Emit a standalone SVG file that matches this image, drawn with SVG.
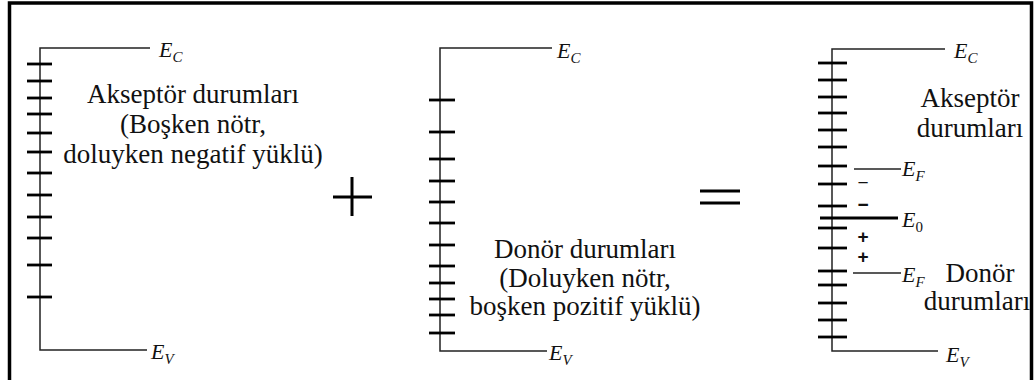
<svg xmlns="http://www.w3.org/2000/svg" width="1036" height="380" viewBox="0 0 1036 380">
<style>
.frame{fill:none;stroke:#000;stroke-width:3.5}
.axis{fill:none;stroke:#222;stroke-width:1.5}
.tick{stroke:#000;stroke-width:2.8}
.lvl{stroke:#222;stroke-width:1.3}
.op{stroke:#000;stroke-width:3}
.lbl{font-family:"Liberation Serif","Times New Roman",serif;font-size:27px;fill:#111;text-anchor:middle}
.E{font-family:"Liberation Serif","Times New Roman",serif;font-style:italic;font-size:22px;fill:#111}
.sub{font-size:15px}
.sgn{font-family:"Liberation Sans",Arial,sans-serif;font-size:19px;fill:#111;text-anchor:middle}
</style>
<rect class="frame" x="9.5" y="3" width="1022" height="400"/>

<g id="acceptor">
  <path class="axis" d="M150,48 H40 V350 H147"/>
  <g class="tick">
    <line x1="27" y1="64" x2="52" y2="64"/>
    <line x1="27" y1="81" x2="52" y2="81"/>
    <line x1="27" y1="98" x2="52" y2="98"/>
    <line x1="27" y1="114" x2="52" y2="114"/>
    <line x1="27" y1="133" x2="52" y2="133"/>
    <line x1="27" y1="152" x2="52" y2="152"/>
    <line x1="27" y1="173" x2="52" y2="173"/>
    <line x1="27" y1="195" x2="52" y2="195"/>
    <line x1="27" y1="217" x2="52" y2="217"/>
    <line x1="27" y1="238" x2="52" y2="238"/>
    <line x1="27" y1="265" x2="52" y2="265"/>
    <line x1="27" y1="297" x2="52" y2="297"/>
  </g>
  <text class="E" x="159" y="57">E<tspan class="sub" dy="5">C</tspan></text>
  <text class="E" x="151" y="359">E<tspan class="sub" dy="5">V</tspan></text>
  <text class="lbl" x="193" y="103">Akseptör durumları</text>
  <text class="lbl" x="193" y="133">(Boşken nötr,</text>
  <text class="lbl" x="193" y="163">doluyken negatif yüklü)</text>
</g>

<g id="plus">
  <line class="op" x1="333" y1="197" x2="372" y2="197"/>
  <line class="op" x1="352" y1="177" x2="352" y2="216"/>
</g>

<g id="donor">
  <path class="axis" d="M552,48 H440 V351 H547"/>
  <g class="tick">
    <line x1="429" y1="100" x2="455" y2="100"/>
    <line x1="429" y1="132" x2="455" y2="132"/>
    <line x1="429" y1="159" x2="455" y2="159"/>
    <line x1="429" y1="181" x2="455" y2="181"/>
    <line x1="429" y1="202" x2="455" y2="202"/>
    <line x1="429" y1="223" x2="455" y2="223"/>
    <line x1="429" y1="245" x2="455" y2="245"/>
    <line x1="429" y1="266" x2="455" y2="266"/>
    <line x1="429" y1="283" x2="455" y2="283"/>
    <line x1="429" y1="299" x2="455" y2="299"/>
    <line x1="429" y1="315" x2="455" y2="315"/>
    <line x1="429" y1="333" x2="455" y2="333"/>
  </g>
  <text class="E" x="557" y="58">E<tspan class="sub" dy="5">C</tspan></text>
  <text class="E" x="549" y="360">E<tspan class="sub" dy="5">V</tspan></text>
  <text class="lbl" x="585" y="258">Donör durumları</text>
  <text class="lbl" x="585" y="287">(Doluyken nötr,</text>
  <text class="lbl" x="585" y="315">boşken pozitif yüklü)</text>
</g>

<g id="equals">
  <line class="op" x1="700" y1="191" x2="740" y2="191" stroke-width="4"/>
  <line class="op" x1="700" y1="203" x2="740" y2="203" stroke-width="4"/>
</g>

<g id="combined">
  <path class="axis" d="M945,49 H832 V351 H938"/>
  <g class="tick">
    <line x1="818" y1="63" x2="847" y2="63"/>
    <line x1="818" y1="80" x2="847" y2="80"/>
    <line x1="818" y1="97" x2="847" y2="97"/>
    <line x1="818" y1="113" x2="847" y2="113"/>
    <line x1="818" y1="130" x2="847" y2="130"/>
    <line x1="818" y1="147" x2="847" y2="147"/>
    <line x1="818" y1="166" x2="847" y2="166"/>
    <line x1="818" y1="184" x2="847" y2="184"/>
    <line x1="818" y1="206" x2="847" y2="206"/>
    <line x1="818" y1="228" x2="847" y2="228"/>
    <line x1="818" y1="248" x2="847" y2="248"/>
    <line x1="818" y1="271" x2="847" y2="271"/>
    <line x1="818" y1="285" x2="847" y2="285"/>
    <line x1="818" y1="303" x2="847" y2="303"/>
    <line x1="818" y1="320" x2="847" y2="320"/>
    <line x1="818" y1="337" x2="847" y2="337"/>
  </g>
  <line class="tick" x1="820" y1="218" x2="898" y2="218"/>
  <line class="lvl" x1="854" y1="169" x2="901" y2="169"/>
  <line class="lvl" x1="853" y1="273" x2="901" y2="273"/>
  <text class="sgn" x="863" y="189">−</text>
  <text class="sgn" x="863" y="211" font-weight="bold">−</text>
  <text class="sgn" x="863" y="243" font-weight="bold">+</text>
  <text class="sgn" x="863" y="263" font-weight="bold">+</text>
  <text class="E" x="954" y="58">E<tspan class="sub" dy="5">C</tspan></text>
  <text class="E" x="902" y="176">E<tspan class="sub" dy="5">F</tspan></text>
  <text class="E" x="902" y="227">E<tspan class="sub" dy="5" font-style="normal">0</tspan></text>
  <text class="E" x="902" y="282">E<tspan class="sub" dy="5">F</tspan></text>
  <text class="E" x="946" y="362">E<tspan class="sub" dy="5">V</tspan></text>
  <text class="lbl" x="970" y="107">Akseptör</text>
  <text class="lbl" x="970" y="137">durumları</text>
  <text class="lbl" x="980" y="282">Donör</text>
  <text class="lbl" x="977" y="310">durumları</text>
</g>
</svg>
